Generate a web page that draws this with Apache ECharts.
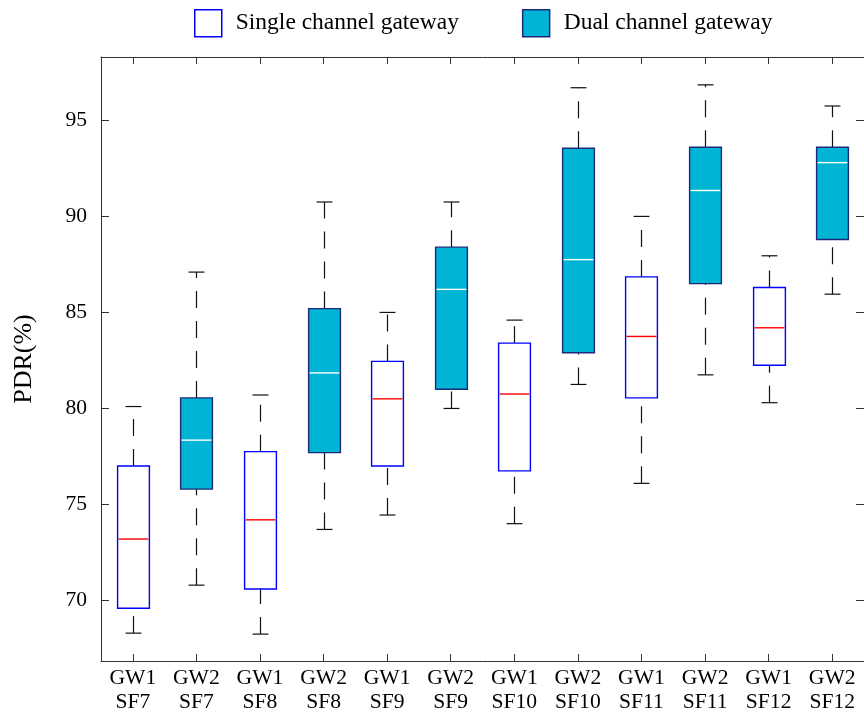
<!DOCTYPE html>
<html>
<head>
<meta charset="utf-8">
<script src="https://cdn.jsdelivr.net/npm/echarts@6/dist/echarts.min.js"></script>
<style>
  html, body { margin: 0; padding: 0; background: #fff; }
  #main { width: 864px; height: 714px; }
</style>
</head>
<body>
<div id="main"></div>
<script>
// GW1 = single channel gateway, GW2 = dual channel gateway
const categories = ['GW1\nSF7', 'GW2\nSF7', 'GW1\nSF8', 'GW2\nSF8', 'GW1\nSF9', 'GW2\nSF9',
  'GW1\nSF10', 'GW2\nSF10', 'GW1\nSF11', 'GW2\nSF11', 'GW1\nSF12', 'GW2\nSF12'];
const lowerWhisker = [68.3, 70.8, 68.25, 73.7, 74.45, 80.0, 74.0, 81.25, 76.1, 81.75, 80.3, 85.95];
const q1 = [69.6, 75.8, 70.6, 77.7, 77.0, 81.0, 76.75, 82.9, 80.55, 86.5, 82.25, 88.8];
const median = [73.2, 78.35, 74.2, 81.85, 80.5, 86.2, 80.75, 87.75, 83.75, 91.35, 84.2, 92.8];
const q3 = [77.0, 80.55, 77.75, 85.2, 82.45, 88.4, 83.4, 93.55, 86.85, 93.6, 86.3, 93.6];
const upperWhisker = [80.1, 87.1, 80.7, 90.75, 85.0, 90.75, 84.6, 96.7, 90.0, 96.85, 87.95, 95.75];

const FONT = '"Liberation Serif", "Times New Roman", serif';
const AXIS = '#333';

let myChart = echarts.init(document.getElementById('main'));

// pick every other category: 0 -> single, 1 -> dual
function boxData(parity) {
  const out = [];
  categories.forEach((c, i) => {
    if (i % 2 === parity) out.push([i, lowerWhisker[i], q1[i], median[i], q3[i], upperWhisker[i]]);
  });
  return out;
}

function makeRender(fill, border, medColor) {
  return function (params, api) {
    const x = api.value(0);
    const lo = api.coord([x, api.value(1)]);
    const b = api.coord([x, api.value(2)]);
    const m = api.coord([x, api.value(3)]);
    const t = api.coord([x, api.value(4)]);
    const hi = api.coord([x, api.value(5)]);
    const bw = api.size([1, 0])[0] * 0.5;
    const cw = bw * 0.5;
    const cx = Math.round(lo[0]) + 0.5;
    const dash = { stroke: '#111', lineWidth: 1.2, lineDash: [17, 13] };
    const solid = { stroke: '#111', lineWidth: 1.2 };
    return {
      type: 'group',
      children: [
        { type: 'line', shape: { x1: cx, y1: lo[1], x2: cx, y2: b[1] }, style: dash },
        { type: 'line', shape: { x1: cx, y1: t[1], x2: cx, y2: hi[1] }, style: dash },
        { type: 'line', shape: { x1: cx - cw / 2, y1: lo[1], x2: cx + cw / 2, y2: lo[1] }, style: solid },
        { type: 'line', shape: { x1: cx - cw / 2, y1: hi[1], x2: cx + cw / 2, y2: hi[1] }, style: solid },
        { type: 'rect', shape: { x: cx - bw / 2, y: t[1], width: bw, height: b[1] - t[1] },
          style: { fill: fill, stroke: border, lineWidth: 1.4 } },
        { type: 'line', shape: { x1: cx - bw / 2 + 1, y1: m[1], x2: cx + bw / 2 - 1, y2: m[1] },
          style: { stroke: medColor, lineWidth: 1.4 } }
      ]
    };
  };
}

const yCommon = {
  type: 'value',
  min: 66.85,
  max: 98.3,
  axisLine: { show: true, lineStyle: { color: AXIS, width: 1 } },
  axisTick: { show: true, inside: true, length: 8, lineStyle: { color: AXIS } },
  splitLine: { show: false }
};
const xCommon = {
  type: 'category',
  data: categories,
  boundaryGap: true,
  axisLine: { show: true, lineStyle: { color: AXIS, width: 1 } },
  axisTick: { show: true, inside: true, alignWithLabel: true, length: 7, lineStyle: { color: AXIS } },
  splitLine: { show: false }
};

let option = {
  animation: false,
  backgroundColor: '#fff',
  legend: {
    left: 189,
    top: 4,
    icon: 'rect',
    itemWidth: 27,
    itemHeight: 27,
    itemGap: 63,
    textStyle: { fontFamily: FONT, fontSize: 23.5, color: '#000', padding: [0, 0, 0, 9] },
    data: [
      { name: 'Single channel gateway', itemStyle: { color: '#fff', borderColor: '#0000ff', borderWidth: 1.5 } },
      { name: 'Dual channel gateway', itemStyle: { color: '#00b4d6', borderColor: '#1c2a78', borderWidth: 1.5 } }
    ]
  },
  grid: { left: 101, right: -5, top: 57, bottom: 51 },
  xAxis: [
    Object.assign({}, xCommon, {
      position: 'bottom',
      axisLabel: { interval: 0, fontFamily: FONT, fontSize: 21.6, color: '#000', lineHeight: 23.5, margin: 6 }
    }),
    Object.assign({}, xCommon, { position: 'top', axisLabel: { show: false } })
  ],
  yAxis: [
    Object.assign({}, yCommon, {
      position: 'left',
      name: 'PDR(%)',
      nameLocation: 'middle',
      nameGap: 64,
      nameTextStyle: { fontFamily: FONT, fontSize: 26, color: '#000' },
      axisLabel: { showMinLabel: false, showMaxLabel: false, fontFamily: FONT, fontSize: 21.6, color: '#000', margin: 14 }
    }),
    Object.assign({}, yCommon, { position: 'right', axisLabel: { show: false } })
  ],
  series: [
    {
      name: 'Single channel gateway',
      type: 'custom',
      itemStyle: { color: '#fff', borderColor: '#0000ff' },
      encode: { x: 0, y: [1, 2, 3, 4, 5] },
      renderItem: makeRender('#fff', '#0000ff', '#ff0000'),
      data: boxData(0),
      clip: false
    },
    {
      name: 'Dual channel gateway',
      type: 'custom',
      itemStyle: { color: '#00b4d6', borderColor: '#1c2a78' },
      encode: { x: 0, y: [1, 2, 3, 4, 5] },
      renderItem: makeRender('#00b4d6', '#1c2a78', '#ffffff'),
      data: boxData(1),
      clip: false
    }
  ]
};

myChart.setOption(option);
</script>
</body>
</html>
